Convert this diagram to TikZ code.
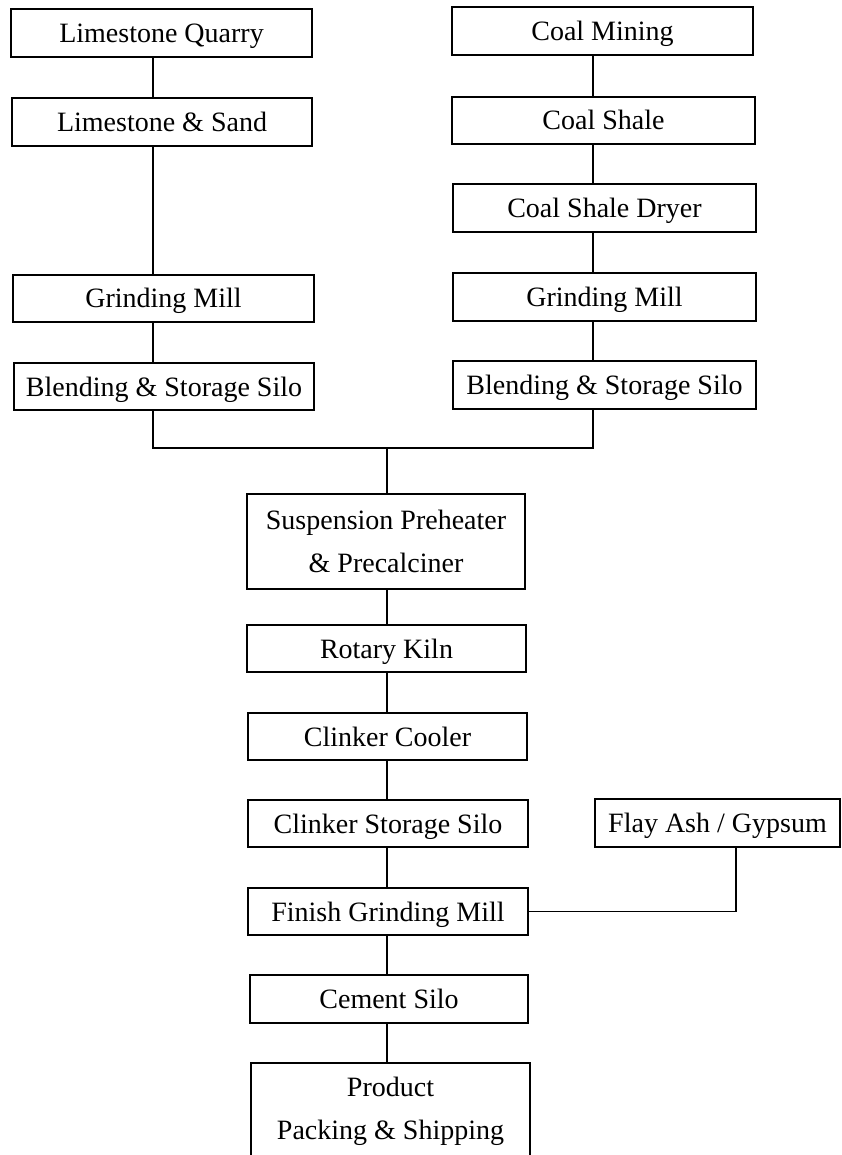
\documentclass[tikz,border=0pt]{standalone}
\usepackage{fontspec}
\setmainfont{Liberation Serif}
\begin{document}
\begin{tikzpicture}[x=1pt,y=-1pt,
  box/.style={draw, line width=1.6pt, inner sep=0pt, font=\fontsize{28}{43}\selectfont, text height=24pt, text depth=5pt, minimum height=48pt},
  tallbox/.style={draw, line width=1.6pt, inner sep=0pt, align=center, font=\fontsize{28}{43}\selectfont},
  link/.style={line width=1.6pt}]
\useasboundingbox (0,0) rectangle (841,1155);
\fill[white] (0,0) rectangle (841,1155);
% column guide coordinates
\coordinate (lx) at (153,0);
\coordinate (rx) at (593,0);
\coordinate (cx) at (387,0);
\coordinate (fx) at (736,0);
\coordinate (jy) at (0,448);
% left column
\node[box, minimum width=301pt] (lq) at (161.5,33) {Limestone Quarry};
\node[box, minimum width=300pt] (ls) at (162,122) {Limestone \& Sand};
\node[box, minimum width=301pt, minimum height=47pt] (lg) at (163.5,298.5) {Grinding Mill};
\node[box, minimum width=300pt, minimum height=47pt] (lb) at (164,386.5) {Blending \& Storage Silo};
% right column
\node[box, minimum width=301pt] (cm) at (602.5,31) {Coal Mining};
\node[box, minimum width=303pt, minimum height=47pt] (cs) at (603.5,120.5) {Coal Shale};
\node[box, minimum width=303pt] (cd) at (604.5,208) {Coal Shale Dryer};
\node[box, minimum width=303pt] (rg) at (604.5,297) {Grinding Mill};
\node[box, minimum width=303pt] (rb) at (604.5,385) {Blending \& Storage Silo};
% centre column
\node[tallbox, minimum width=278pt, minimum height=95pt] (sp) at (386,541.5) {Suspension Preheater\\\& Precalciner};
\node[box, minimum width=279pt, minimum height=47pt] (rk) at (386.5,648.5) {Rotary Kiln};
\node[box, minimum width=279pt, minimum height=47pt] (cc) at (387.5,736.5) {Clinker Cooler};
\node[box, minimum width=280pt, minimum height=47pt] (st) at (388,823.5) {Clinker Storage Silo};
\node[box, minimum width=280pt, minimum height=47pt] (fg) at (388,911.5) {Finish Grinding Mill};
\node[box, minimum width=278pt] (ce) at (389,999) {Cement Silo};
\node[tallbox, minimum width=279pt, minimum height=96pt] (pr) at (390.5,1111) {Product\\Packing \& Shipping};
% additive
\node[box, minimum width=245pt] (fa) at (717.5,823) {Flay Ash / Gypsum};
% connectors
\draw[link] (lq.south -| lx) -- (ls.north -| lx);
\draw[link] (ls.south -| lx) -- (lg.north -| lx);
\draw[link] (lg.south -| lx) -- (lb.north -| lx);
\draw[link] (cm.south -| rx) -- (cs.north -| rx);
\draw[link] (cs.south -| rx) -- (cd.north -| rx);
\draw[link] (cd.south -| rx) -- (rg.north -| rx);
\draw[link] (rg.south -| rx) -- (rb.north -| rx);
\draw[link] (lb.south -| lx) -- (lx |- jy) -- (rx |- jy) -- (rb.south -| rx);
\draw[link] (cx |- jy) -- (sp.north -| cx);
\draw[link] (sp.south -| cx) -- (rk.north -| cx);
\draw[link] (rk.south -| cx) -- (cc.north -| cx);
\draw[link] (cc.south -| cx) -- (st.north -| cx);
\draw[link] (st.south -| cx) -- (fg.north -| cx);
\draw[link] (fg.south -| cx) -- (ce.north -| cx);
\draw[link] (ce.south -| cx) -- (pr.north -| cx);
\draw[link] (fg.east) -| (fa.south -| fx);
\end{tikzpicture}
\end{document}
